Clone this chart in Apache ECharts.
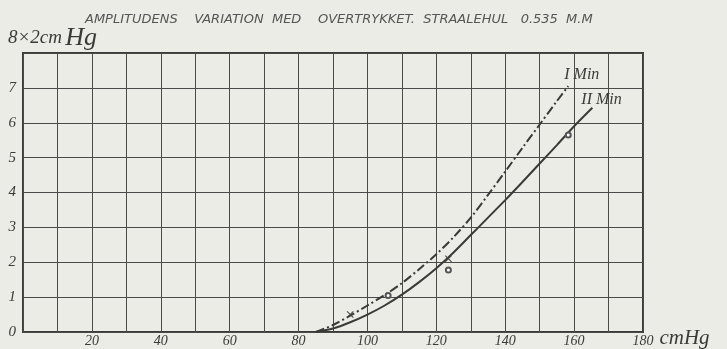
<!DOCTYPE html>
<html>
<head>
<meta charset="utf-8">
<script src="https://cdn.jsdelivr.net/npm/echarts@6/dist/echarts.min.js"></script>
<style>
html,body{margin:0;padding:0;background:#ecece7;}
#c{width:727px;height:349px;}
</style>
</head>
<body>
<div id="c"></div>
<script>
// Data
const titleText = 'AMPLITUDENS    VARIATION  MED    OVERTRYKKET.  STRAALEHUL   0.535  M.M';
const yUnitMain = '8×2cm';
const yUnitHg = 'Hg';
const xUnit = 'cmHg';
const xTicks = [20, 40, 60, 80, 100, 120, 140, 160, 180];
const yTicks = [0, 1, 2, 3, 4, 5, 6, 7];
const curveIName = 'I Min';
const curveIIName = 'II Min';
// Curve I Min (dash-dot): [overpressure cmHg, amplitude]
const curveI = [[85,0],[90,0.2],[95,0.47],[100,0.76],[105,1.06],[110,1.4],[115,1.8],[120,2.23],[125,2.72],[130,3.28],[135,3.93],[140,4.6],[145,5.28],[150,5.95],[155,6.62],[158.3,7.05]];
// Curve II Min (solid)
const curveII = [[85,0],[90,0.1],[95,0.28],[100,0.5],[105,0.76],[110,1.07],[115,1.43],[120,1.83],[125,2.28],[130,2.78],[135,3.28],[140,3.78],[145,4.3],[150,4.83],[155,5.36],[160,5.9],[165.3,6.43]];
// Observed points
const crossPts = [[95,0.5],[123.5,2.1]];
const circlePts = [[106,1.05],[123.5,1.78],[158.3,5.65]];

const ink = '#3a3a38';
const serif = '"Liberation Serif","DejaVu Serif",serif';

const chart = echarts.init(document.getElementById('c'), null, {renderer:'canvas'});
chart.setOption({
  backgroundColor: '#ecece7',
  animation: false,
  title: {
    text: titleText,
    left: 80, top: 8,
    textStyle: {fontFamily:'"DejaVu Sans",sans-serif', fontStyle:'italic', fontWeight:'normal', fontSize:13, color:'#555'}
  },
  grid: {left:23, right:84, top:53, bottom:17, show:true, borderColor:ink, borderWidth:2, backgroundColor:'transparent'},
  xAxis: {
    type:'value', min:0, max:180, interval:10,
    axisLine:{show:false}, axisTick:{show:false},
    splitLine:{show:true, lineStyle:{color:'#4a4a48', width:1}},
    axisLabel:{
      margin:2, fontFamily:serif, fontStyle:'italic', fontSize:14, color:ink,
      formatter: v => xTicks.includes(v) ? String(v) : ''
    },
    name: xUnit, nameLocation:'end', nameGap:10,
    nameTextStyle:{fontFamily:serif, fontStyle:'italic', fontSize:21, color:ink, verticalAlign:'top', padding:[-4,0,0,0]}
  },
  yAxis: {
    type:'value', min:0, max:8, interval:1,
    axisLine:{show:false}, axisTick:{show:false},
    splitLine:{show:true, lineStyle:{color:'#4a4a48', width:1}},
    axisLabel:{
      margin:7, fontFamily:serif, fontStyle:'italic', fontSize:15, color:ink,
      formatter: v => yTicks.includes(v) ? String(v) : ''
    },
    name: '{a|' + yUnitMain + '} {b|' + yUnitHg + '}', nameLocation:'end', nameGap:2,
    nameTextStyle:{
      align:'left', padding:[0,0,0,-15], color:ink,
      rich:{
        a:{fontFamily:serif, fontStyle:'italic', fontSize:19, color:ink},
        b:{fontFamily:serif, fontStyle:'italic', fontSize:26, color:ink}
      }
    }
  },
  series: [
    {
      name: curveIName, type:'line', data: curveI, smooth:0.3, symbol:'none',
      lineStyle:{color:ink, width:2, type:[9,3,2,3]},
      endLabel:{show:true, formatter:curveIName, offset:[-12,-11], fontFamily:serif, fontStyle:'italic', fontSize:16, color:ink}
    },
    {
      name: curveIIName, type:'line', data: curveII, smooth:0.3, symbol:'none',
      lineStyle:{color:ink, width:2},
      endLabel:{show:true, formatter:curveIIName, offset:[-19,-8], fontFamily:serif, fontStyle:'italic', fontSize:16, color:ink}
    },
    {
      type:'scatter', data: crossPts, z:5,
      symbol:'path://M0,1L1,0L5,4L9,0L10,1L6,5L10,9L9,10L5,6L1,10L0,9L4,5Z', symbolSize:7,
      itemStyle:{color:'#444', opacity:1}
    },
    {
      type:'scatter', data: circlePts, z:5, symbol:'emptyCircle', symbolSize:5,
      itemStyle:{color:'#555', borderWidth:1.2, opacity:1}
    }
  ]
});
</script>
</body>
</html>
